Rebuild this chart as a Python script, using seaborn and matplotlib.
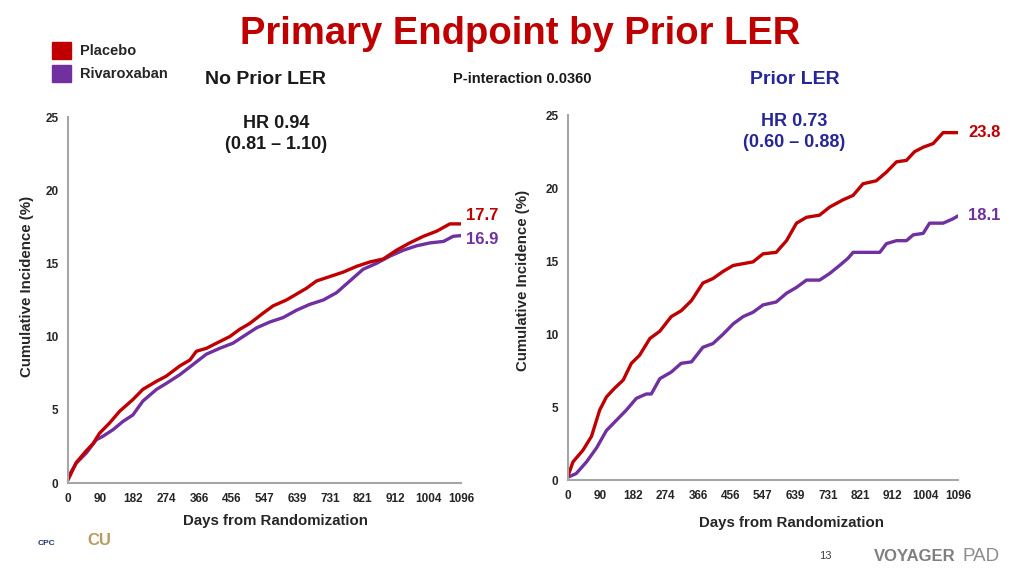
import numpy as np
import pandas as pd
import seaborn as sns
import matplotlib.pyplot as plt

# ---- data (days, cumulative incidence %) ----
noprior_placebo_days = [0, 23, 51, 70, 88, 116, 144, 181, 209, 247, 274, 312, 340, 358,
                        386, 414, 451, 479, 507, 544, 572, 609, 637, 665, 693, 730, 767,
                        805, 842, 879, 916, 953, 991, 1028, 1065, 1096]
noprior_placebo_ci = [0.2, 1.4, 2.2, 2.7, 3.4, 4.1, 4.9, 5.7, 6.4, 6.95, 7.3, 8.0, 8.4, 9.0,
                      9.2, 9.55, 10.0, 10.5, 10.9, 11.6, 12.1, 12.5, 12.9, 13.3, 13.8, 14.1,
                      14.4, 14.8, 15.1, 15.3, 15.9, 16.4, 16.85, 17.2, 17.7, 17.7]

noprior_rivaro_days = [0, 23, 51, 79, 98, 126, 153, 181, 209, 247, 274, 312, 349, 386, 423,
                       460, 488, 526, 563, 600, 637, 674, 712, 749, 786, 823, 860, 898, 935,
                       972, 1009, 1047, 1074, 1096]
noprior_rivaro_ci = [0.4, 1.35, 2.05, 2.95, 3.2, 3.65, 4.2, 4.65, 5.6, 6.4, 6.8, 7.4, 8.1,
                     8.8, 9.2, 9.55, 10.0, 10.6, 11.0, 11.3, 11.8, 12.2, 12.5, 13.0, 13.8,
                     14.6, 15.0, 15.5, 15.9, 16.2, 16.4, 16.5, 16.85, 16.9]

prior_placebo_days = [0, 14, 42, 66, 89, 108, 131, 155, 178, 201, 230, 258, 290, 318, 347,
                      379, 407, 436, 464, 520, 548, 585, 614, 642, 670, 707, 735, 773, 801,
                      829, 866, 895, 923, 951, 974, 998, 1026, 1054, 1096]
prior_placebo_ci = [0.3, 1.25, 2.05, 3.0, 4.8, 5.7, 6.3, 6.85, 8.0, 8.55, 9.7, 10.2, 11.2,
                    11.6, 12.3, 13.5, 13.8, 14.3, 14.7, 14.95, 15.5, 15.6, 16.4, 17.6, 18.0,
                    18.15, 18.7, 19.2, 19.5, 20.3, 20.5, 21.1, 21.8, 21.9, 22.5, 22.8, 23.05,
                    23.8, 23.8]

prior_rivaro_days = [0, 23, 52, 80, 108, 136, 164, 192, 220, 234, 258, 290, 318, 347, 379,
                     407, 436, 464, 492, 520, 548, 585, 614, 642, 670, 707, 735, 763, 787,
                     801, 876, 895, 923, 951, 970, 998, 1016, 1054, 1082, 1096]
prior_rivaro_ci = [0.2, 0.45, 1.25, 2.2, 3.4, 4.1, 4.8, 5.6, 5.9, 5.9, 6.95, 7.4, 8.0, 8.1,
                   9.1, 9.35, 10.0, 10.7, 11.2, 11.5, 12.0, 12.2, 12.8, 13.2, 13.7, 13.7,
                   14.15, 14.7, 15.2, 15.6, 15.6, 16.2, 16.4, 16.4, 16.8, 16.9, 17.6, 17.6,
                   17.9, 18.1]

day_ticks = [0, 90, 182, 274, 366, 456, 547, 639, 731, 821, 912, 1004, 1096]
pct_ticks = [0, 5, 10, 15, 20, 25]

RED = '#c00000'
PURPLE = '#7030a0'
NAVY = '#262699'
SPINE = '#a6a6a6'

sns.set_theme(style='white')
plt.rcParams['font.family'] = ['Liberation Sans', 'DejaVu Sans']


def make_df(pl_d, pl_v, rv_d, rv_v):
    a = pd.DataFrame({'day': pl_d, 'ci': pl_v, 'arm': 'Placebo'})
    b = pd.DataFrame({'day': rv_d, 'ci': rv_v, 'arm': 'Rivaroxaban'})
    return pd.concat([a, b], ignore_index=True)


def draw_panel(ax, df):
    sns.lineplot(data=df, x='day', y='ci', hue='arm', estimator=None, sort=False,
                 palette={'Placebo': RED, 'Rivaroxaban': PURPLE},
                 hue_order=['Rivaroxaban', 'Placebo'],
                 linewidth=2.4, legend=False, ax=ax)
    ax.set_xlim(0, 1096)
    ax.set_ylim(0, 25)
    ax.set_xticks(day_ticks)
    ax.set_yticks(pct_ticks)
    ax.tick_params(length=0, labelsize=8.5, pad=7)
    for lab in ax.get_xticklabels() + ax.get_yticklabels():
        lab.set_fontweight('bold')
    for s in ['top', 'right']:
        ax.spines[s].set_visible(False)
    for s in ['left', 'bottom']:
        ax.spines[s].set_color(SPINE)
        ax.spines[s].set_linewidth(1.5)
    ax.set_ylabel('Cumulative Incidence (%)', fontsize=10.8, fontweight='bold')
    ax.set_xlabel('Days from Randomization', fontsize=10.8, fontweight='bold')
    ax.grid(False)


fig = plt.figure(figsize=(10.24, 5.75), dpi=100)
ax_l = fig.add_axes([0.0664, 0.160, 0.3838, 0.6365])
ax_r = fig.add_axes([0.5547, 0.165, 0.3809, 0.6348])

draw_panel(ax_l, make_df(noprior_placebo_days, noprior_placebo_ci,
                         noprior_rivaro_days, noprior_rivaro_ci))
draw_panel(ax_r, make_df(prior_placebo_days, prior_placebo_ci,
                         prior_rivaro_days, prior_rivaro_ci))

# label placement as on the slide (not centred on the axes)
ax_l.xaxis.set_label_coords(0.529, -0.085)
ax_r.xaxis.set_label_coords(0.574, -0.099)
ax_l.yaxis.set_label_coords(-0.087, 0.538)
ax_r.yaxis.set_label_coords(-0.097, 0.548)

# end-of-curve values
ax_l.text(1110, 18.3, '17.7', color=RED, fontsize=12, fontweight='bold',
          va='center', ha='left', clip_on=False)
ax_l.text(1110, 16.6, '16.9', color=PURPLE, fontsize=12, fontweight='bold',
          va='center', ha='left', clip_on=False)
ax_r.text(1125, 23.8, '23.8', color=RED, fontsize=12, fontweight='bold',
          va='center', ha='left', clip_on=False)
ax_r.text(1125, 18.1, '18.1', color=PURPLE, fontsize=12, fontweight='bold',
          va='center', ha='left', clip_on=False)

# hazard ratios
ax_l.text(0.53, 1.005, 'HR 0.94\n(0.81 \u2013 1.10)', transform=ax_l.transAxes,
          ha='center', va='top', fontsize=13, fontweight='bold', color='#1a1a1a',
          linespacing=1.3)
ax_r.text(0.58, 1.005, 'HR 0.73\n(0.60 \u2013 0.88)', transform=ax_r.transAxes,
          ha='center', va='top', fontsize=13, fontweight='bold', color=NAVY,
          linespacing=1.3)

# headers
fig.text(0.508, 0.94, 'Primary Endpoint by Prior LER', ha='center', va='center',
         fontsize=27.5, fontweight='bold', color=RED)
fig.text(0.259, 0.862, 'No Prior LER', ha='center', va='center', fontsize=14,
         fontweight='bold', color='#1a1a1a')
fig.text(0.51, 0.862, 'P-interaction 0.0360', ha='center', va='center', fontsize=10.5,
         fontweight='bold', color='#1a1a1a')
fig.text(0.776, 0.862, 'Prior LER', ha='center', va='center', fontsize=14,
         fontweight='bold', color=NAVY)

# legend squares
fig.patches.append(plt.Rectangle((0.051, 0.897), 0.018, 0.030, color=RED,
                                 transform=fig.transFigure, figure=fig))
fig.patches.append(plt.Rectangle((0.051, 0.857), 0.018, 0.030, color=PURPLE,
                                 transform=fig.transFigure, figure=fig))
fig.text(0.078, 0.912, 'Placebo', ha='left', va='center', fontsize=10.5,
         fontweight='bold')
fig.text(0.078, 0.872, 'Rivaroxaban', ha='left', va='center', fontsize=10.5,
         fontweight='bold')

# footer
fig.text(0.045, 0.055, 'CPC', ha='center', va='center', fontsize=6, color='#1f2f6f',
         fontweight='bold')
fig.text(0.097, 0.06, 'CU', ha='center', va='center', fontsize=12, color='#b89b5e',
         fontweight='bold')
fig.text(0.806, 0.033, '13', ha='center', va='center', fontsize=8, color='#404040')
fig.text(0.853, 0.033, 'VOYAGER', ha='left', va='center', fontsize=12,
         fontweight='bold', color='#7f7f7f')
fig.text(0.94, 0.033, 'PAD', ha='left', va='center', fontsize=13.5, color='#8c8c8c')

fig.savefig('out.png', dpi=100)
